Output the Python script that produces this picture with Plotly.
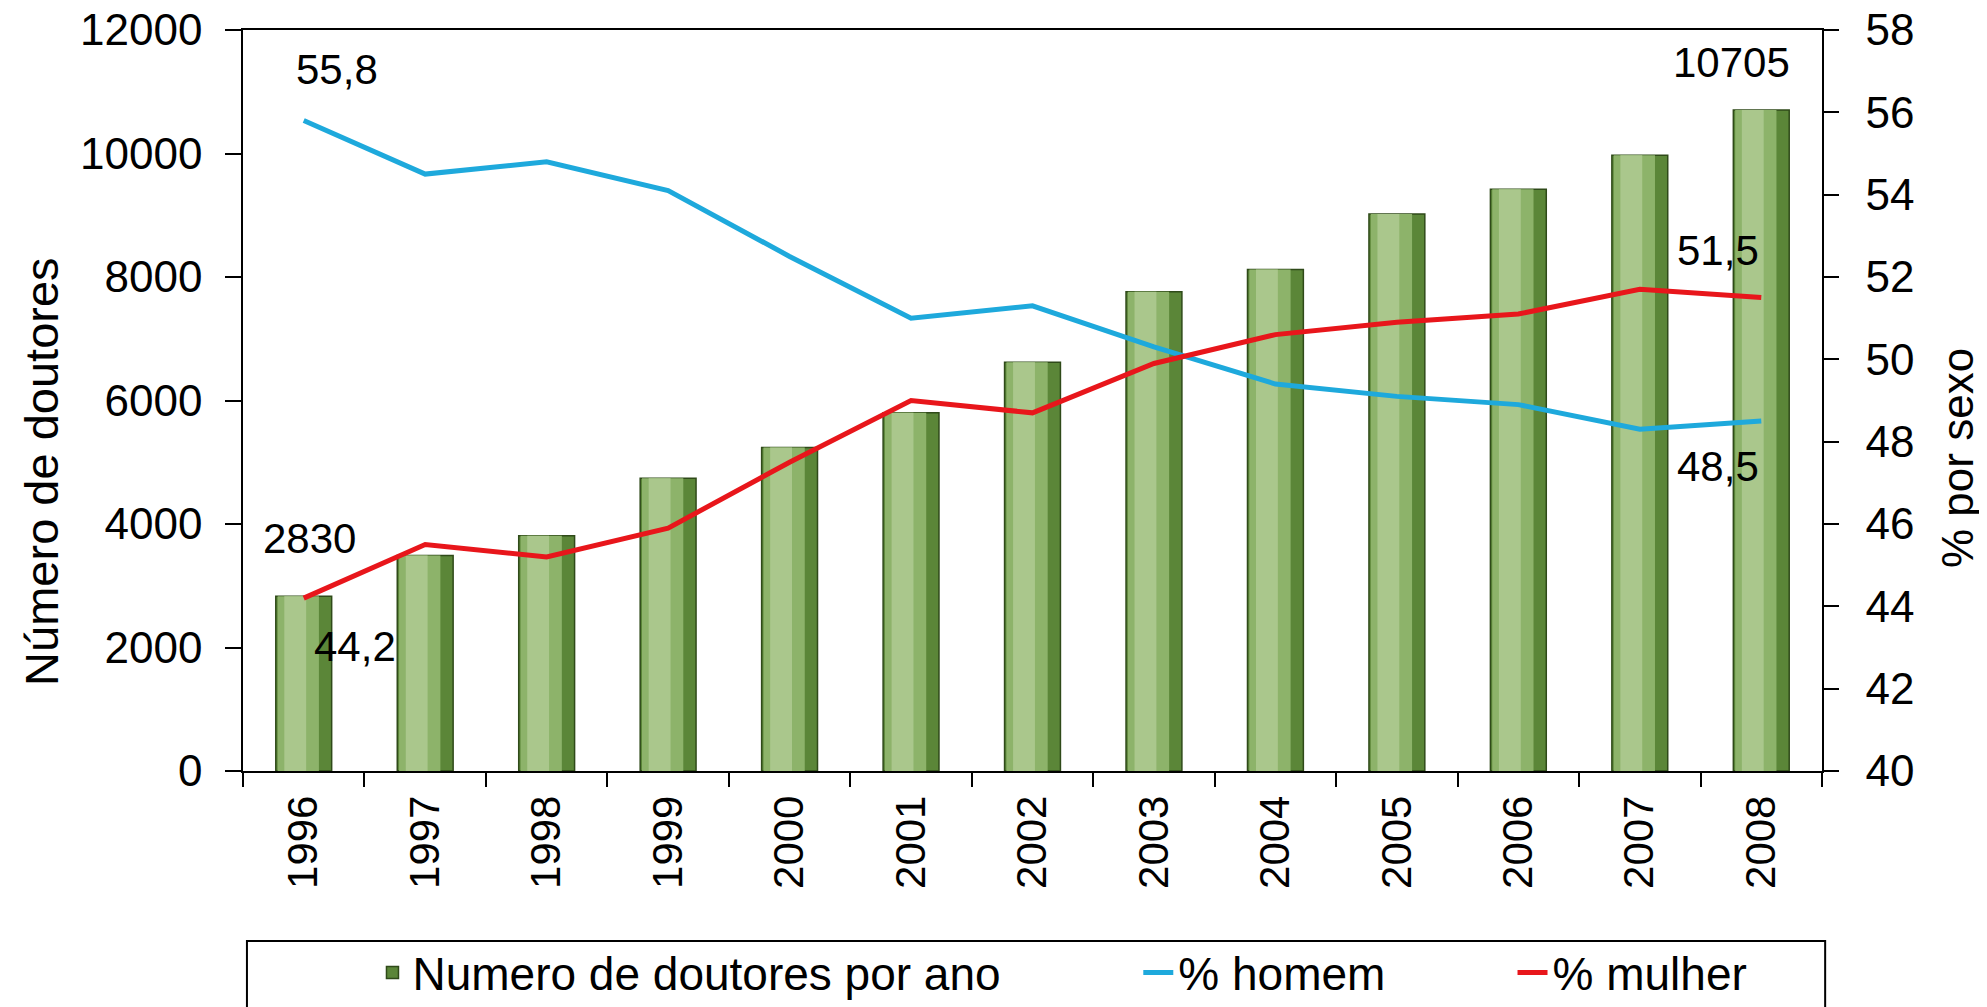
import plotly.graph_objects as go

anos = ["1996", "1997", "1998", "1999", "2000", "2001", "2002",
        "2003", "2004", "2005", "2006", "2007", "2008"]
doutores = [2830, 3490, 3810, 4740, 5240, 5800, 6620, 7760, 8120, 9020, 9420, 9970, 10705]
pct_homem = [55.8, 54.5, 54.8, 54.1, 52.5, 51.0, 51.3, 50.3, 49.4, 49.1, 48.9, 48.3, 48.5]
pct_mulher = [44.2, 45.5, 45.2, 45.9, 47.5, 49.0, 48.7, 49.9, 50.6, 50.9, 51.1, 51.7, 51.5]

FONT = "Liberation Sans, Arial, sans-serif"
BLUE = "#1ea9dc"
RED = "#e8161b"

fig = go.Figure()

# bar body (dark green) + lighter layers to mimic the cylinder gradient
fig.add_trace(go.Bar(
    x=anos, y=doutores, name="Numero de doutores por ano",
    width=0.46, marker=dict(color="#5b8638", line=dict(color="#2f4a19", width=1.5)),
    legend="legend", yaxis="y",
))
fig.add_trace(go.Bar(
    x=anos, y=doutores, width=0.34, offset=-0.215,
    marker=dict(color="#8db36a", line=dict(width=0)),
    showlegend=False, hoverinfo="skip", yaxis="y",
))
fig.add_trace(go.Bar(
    x=anos, y=doutores, width=0.18, offset=-0.16,
    marker=dict(color="#aac78c", line=dict(width=0)),
    showlegend=False, hoverinfo="skip", yaxis="y",
))

fig.add_trace(go.Scatter(
    x=anos, y=pct_homem, name="% homem", mode="lines",
    line=dict(color=BLUE, width=5), yaxis="y2", legend="legend2",
))
fig.add_trace(go.Scatter(
    x=anos, y=pct_mulher, name="% mulher", mode="lines",
    line=dict(color=RED, width=5), yaxis="y2", legend="legend3",
))

def fmt(v):
    return f"{v:.1f}".replace(".", ",")

first, last = 0, len(anos) - 1
ann = []
ann.append(dict(x=first, y=doutores[0], yref="y", text=str(doutores[0]),
                xshift=6, yshift=58))
ann.append(dict(x=last, y=doutores[-1], yref="y", text=str(doutores[-1]),
                xshift=-30, yshift=47))
ann.append(dict(x=first, y=pct_homem[0], yref="y2", text=fmt(pct_homem[0]),
                xshift=33, yshift=51))
ann.append(dict(x=first, y=pct_mulher[0], yref="y2", text=fmt(pct_mulher[0]),
                xshift=51, yshift=-48))
ann.append(dict(x=last, y=pct_mulher[-1], yref="y2", text=fmt(pct_mulher[-1]),
                xshift=-43, yshift=47))
ann.append(dict(x=last, y=pct_homem[-1], yref="y2", text=fmt(pct_homem[-1]),
                xshift=-43, yshift=-45))
for a in ann:
    a.update(xref="x", showarrow=False, font=dict(family=FONT, size=42, color="black"),
             xanchor="center", yanchor="middle")

# axis titles (placed as in the reference, slightly below the axis centre)
ann.append(dict(xref="paper", yref="paper", x=-0.128, y=0.4035, text="Número de doutores",
                textangle=-90, showarrow=False, xanchor="center", yanchor="middle",
                font=dict(family=FONT, size=47, color="black")))
ann.append(dict(xref="paper", yref="paper", x=1.0855, y=0.4224, text="% por sexo",
                textangle=-90, showarrow=False, xanchor="center", yanchor="middle",
                font=dict(family=FONT, size=44, color="black")))

leg_common = dict(orientation="h", font=dict(family=FONT, size=46, color="black"),
                  bgcolor="rgba(0,0,0,0)", borderwidth=0, yanchor="middle",
                  xanchor="left", y=-0.272, itemwidth=30)

# page body has an 8px margin: figure is sized/offset so the plot area lands
# on the reference's pixel positions
fig.update_layout(
    width=1979, height=999,
    margin=dict(l=235, r=165, t=22, b=236, autoexpand=False),
    paper_bgcolor="white", plot_bgcolor="white",
    barmode="overlay",
    font=dict(family=FONT, size=42, color="black"),
    annotations=ann,
    legend=dict(**leg_common, x=0.082),
    legend2=dict(**leg_common, x=0.567),
    legend3=dict(**leg_common, x=0.804),
    shapes=[dict(type="rect", xref="paper", yref="paper",
                 x0=0.0025, x1=1.002, y0=-0.36, y1=-0.2294,
                 line=dict(color="black", width=2), fillcolor="rgba(0,0,0,0)")],
    xaxis=dict(
        type="category", categoryorder="array", categoryarray=anos,
        range=[-0.5, len(anos) - 0.5], tickangle=-90, tickson="boundaries",
        ticks="outside", ticklen=14, tickwidth=1.5, tickcolor="black",
        ticklabelstandoff=6, ticklabeloverflow="allow",
        showline=True, linecolor="black", linewidth=1.5, mirror=True,
        showgrid=False, tickfont=dict(family=FONT, size=42),
    ),
    yaxis=dict(
        range=[0, 12000], dtick=2000, tickformat="d", ticks="outside", ticklen=16, tickwidth=1.5,
        tickcolor="black", showline=True, linecolor="black", linewidth=1.5,
        ticklabelstandoff=14, ticklabeloverflow="allow",
        showgrid=False, zeroline=False, tickfont=dict(family=FONT, size=44),
    ),
    yaxis2=dict(
        range=[40, 58], dtick=2, overlaying="y", side="right",
        ticks="outside", ticklen=15, tickwidth=1.5, tickcolor="black",
        ticklabelstandoff=18, ticklabeloverflow="allow",
        showline=True, linecolor="black", linewidth=1.5, showgrid=False,
        zeroline=False, tickfont=dict(family=FONT, size=44),
    ),
    yaxis3=dict(
        range=[40, 58], dtick=2, overlaying="y", side="right",
        ticks="inside", ticklen=15, tickwidth=1.5, tickcolor="black",
        showticklabels=False, showline=False, showgrid=False, zeroline=False,
    ),
)

fig.write_html("out.html")
